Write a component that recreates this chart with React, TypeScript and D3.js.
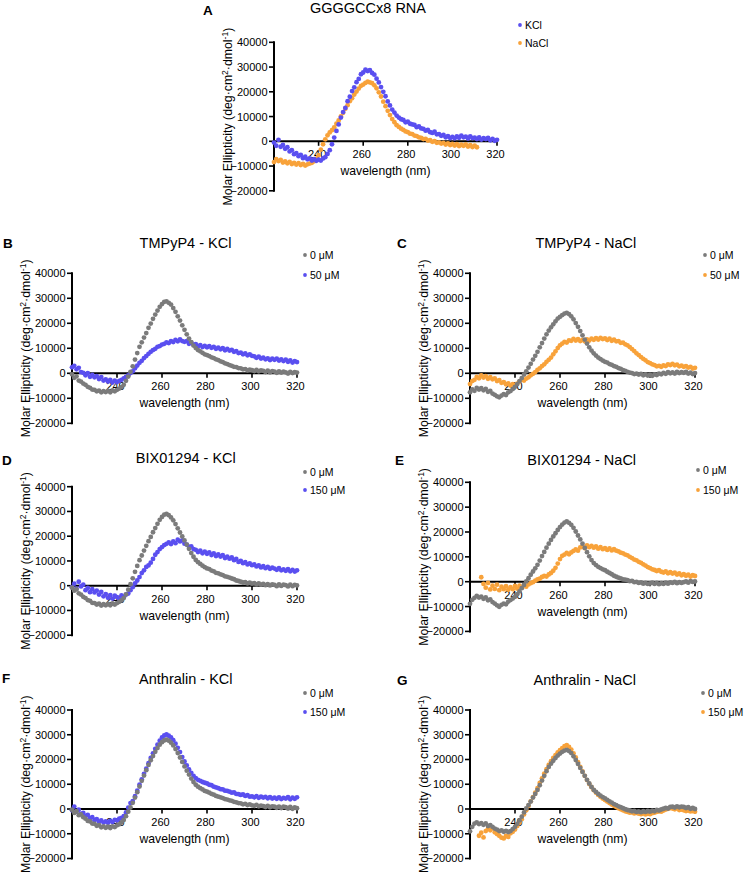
import React from 'react';
import * as d3 from 'd3';

const FONT = '"Liberation Sans", Arial, Helvetica, sans-serif';
const BLUE = '#5a4ff0';
const ORANGE = '#f8a23a';
const GRAY = '#7b7b7b';

const X_DOMAIN = [220, 320];
const Y_DOMAIN = [-20000, 40000];
const X_TICKS = [240, 260, 280, 300, 320];
const Y_TICKS = [-20000, -10000, 0, 10000, 20000, 30000, 40000];

// Molar ellipticity in thousands (deg·cm²·dmol⁻¹ / 1000), 1 nm steps from the given start wavelength
const A_KCL_START = 220;
const A_KCL = [
  -0.5, -1.8, 0.6, -2.2, -1.5, -3.0, -2.4, -4.1, -3.6, -5.2,
  -4.8, -6.0, -5.5, -6.8, -6.2, -7.3, -6.9, -7.8, -7.2, -7.9,
  -7.4, -7.8, -6.9, -6.4, -5.1, -3.6, -1.2, 1.5, 4.2, 6.8,
  9.6, 11.8, 13.5, 16.2, 18.0, 20.3, 21.8, 23.9, 25.2, 27.1,
  27.8, 28.9, 28.4, 28.7, 27.6, 26.9, 25.3, 23.8, 21.9, 20.0,
  18.2, 16.1, 14.5, 12.8, 11.6, 10.4, 9.6, 8.9, 8.6, 7.7,
  7.9, 7.1, 6.8, 6.6, 5.7, 6.0, 5.2, 5.0, 4.3, 4.6,
  3.7, 3.4, 3.9, 2.8, 2.9, 2.2, 2.6, 1.6, 2.1, 1.3,
  1.8, 1.2, 2.0, 1.4, 2.3, 1.6, 1.9, 1.1, 2.0, 1.3,
  1.5, 0.9, 1.6, 0.7, 1.3, 0.9, 1.4, 0.4, 1.0, 0.2,
  0.6,
];
const A_NACL_START = 220;
const A_NACL = [
  -8.4, -7.2, -8.0, -7.5, -8.6, -8.1, -8.9, -8.3, -9.2, -8.7,
  -9.4, -8.8, -9.6, -9.1, -9.8, -9.3, -9.0, -8.7, -8.1, -7.0,
  -5.6, -3.4, -1.2, 0.8, 2.4, 3.6, 4.5, 5.6, 7.1, 8.4,
  10.1, 11.5, 13.2, 14.6, 16.2, 17.4, 18.9, 20.1, 21.3, 22.4,
  22.9, 23.6, 24.1, 23.8, 23.5, 22.6, 21.4, 19.8, 18.1, 16.0,
  14.2, 12.3, 10.6, 9.0, 7.7, 6.5, 5.8, 5.1, 4.6, 4.0,
  3.7, 3.1, 2.9, 2.3, 2.1, 1.6, 1.4, 0.9, 1.0, 0.3,
  0.5, -0.2, 0.1, -0.6, -0.4, -0.9, -0.6, -1.3, -0.8, -1.5,
  -1.1, -1.7, -1.2, -1.9, -1.4, -1.8, -1.3, -2.1, -1.6, -2.3,
  -1.8, -2.4,
];

const B_GRAY_START = 220;
const B_GRAY = [
  -0.4, -1.8, -1.2, -2.9, -3.3, -4.1, -4.6, -5.4, -5.8, -6.5,
  -6.6, -7.2, -6.9, -7.6, -7.1, -7.5, -7.0, -7.6, -6.8, -7.2,
  -6.6, -6.1, -5.5, -4.6, -3.0, -1.3, 0.6, 2.8, 5.5, 8.1,
  10.6, 12.4, 14.3, 16.1, 18.2, 19.9, 21.8, 23.5, 25.1, 26.6,
  27.7, 28.6, 28.8, 28.2, 27.5, 26.1, 24.6, 22.8, 21.1, 19.2,
  17.4, 15.6, 13.9, 12.5, 11.1, 10.1, 9.3, 8.8, 8.2, 7.6,
  7.3, 6.9, 6.4, 6.1, 5.6, 5.3, 4.8, 4.5, 4.0, 3.7,
  3.3, 3.0, 2.6, 2.5, 2.1, 2.0, 1.6, 1.7, 1.2, 1.5,
  1.3, 0.9, 1.4, 0.8, 1.2, 1.0, 0.5, 1.1, 0.4, 0.9,
  0.7, 0.2, 0.8, 0.3, 0.7, 0.4, -0.1, 0.6, 0.1, 0.5,
  0.3,
];
const B_BLUE_START = 220;
const B_BLUE = [
  2.4, 3.0, 1.6, 2.2, 0.5, 0.2, -0.8, 0.1, -1.4, -0.6,
  -1.6, -1.1, -2.3, -1.5, -2.9, -2.4, -3.3, -2.6, -3.7, -2.9,
  -3.5, -3.0, -2.6, -2.0, -1.4, -0.8, 0.1, 0.8, 2.0, 3.1,
  4.2, 5.0, 6.1, 6.9, 7.8, 8.6, 9.3, 9.8, 10.6, 10.9,
  11.5, 11.8, 12.4, 12.1, 12.9, 12.5, 13.4, 12.8, 13.6, 12.9,
  12.6, 12.9, 11.8, 12.3, 11.4, 11.7, 10.8, 11.3, 10.5, 11.0,
  10.4, 10.9, 10.2, 10.6, 9.8, 10.3, 9.6, 10.1, 9.2, 9.8,
  9.1, 9.4, 8.6, 8.9, 8.1, 8.3, 7.6, 8.0, 7.2, 7.6,
  7.0, 6.8, 6.2, 6.7, 5.9, 6.3, 5.6, 6.0, 5.3, 5.9,
  5.4, 5.9, 5.1, 5.6, 4.9, 5.5, 4.6, 5.2, 4.3, 4.9,
  4.5,
];

const C_GRAY_START = 220;
const C_GRAY = [
  -7.6, -6.4, -7.0, -5.8, -6.5, -5.9, -6.8, -6.2, -7.4, -7.0,
  -8.1, -8.6, -9.2, -9.6, -8.9, -8.3, -8.7, -7.6, -7.1, -6.3,
  -5.4, -4.3, -3.1, -1.9, -0.5, 0.8, 2.3, 3.8, 5.5, 7.0,
  8.6, 10.4, 12.1, 13.9, 15.6, 17.1, 18.4, 19.6, 20.8, 21.9,
  22.6, 23.3, 23.9, 24.2, 23.7, 22.8, 21.6, 20.1, 18.6, 16.9,
  15.2, 13.5, 11.9, 10.4, 9.1, 8.0, 7.1, 6.3, 5.7, 5.1,
  4.6, 4.3, 3.7, 3.4, 2.9, 2.6, 2.1, 1.8, 1.3, 1.0,
  0.6, 0.3, 0.1, -0.3, -0.1, -0.5, -0.2, -0.8, -0.4, -0.9,
  -0.6, -1.0, -0.4, -0.7, -0.1, -0.4, 0.2, -0.2, 0.5, 0.0,
  0.4, -0.1, 0.6, 0.1, 0.5, 0.2, 0.6, -0.1, 0.3, -0.3,
  0.1,
];
const C_ORANGE_START = 220;
const C_ORANGE = [
  -4.3, -3.1, -2.6, -1.4, -2.0, -0.8, -1.7, -1.1, -2.2, -1.5,
  -2.4, -2.0, -3.1, -2.7, -3.8, -3.5, -4.4, -4.0, -4.9, -4.3,
  -4.8, -4.1, -3.3, -2.6, -2.9, -2.1, -1.6, -0.8, -0.2, 0.5,
  1.4, 2.0, 2.9, 3.6, 4.6, 5.4, 6.3, 7.6, 8.8, 10.1,
  11.2, 11.9, 12.6, 12.3, 13.2, 13.0, 13.8, 13.1, 13.7, 12.9,
  13.4, 12.8, 13.6, 13.1, 13.9, 13.4, 14.1, 13.5, 14.2, 13.7,
  14.0, 13.3, 13.9, 13.0, 13.5, 12.8, 12.9, 12.2, 12.3, 11.6,
  11.2, 10.5, 9.7, 8.9, 8.0, 7.3, 6.5, 5.8, 5.2, 4.5,
  4.1, 3.6, 3.3, 2.8, 3.0, 2.6, 3.2, 2.9, 3.6, 3.3,
  3.8, 3.2, 3.5, 2.8, 3.1, 2.6, 2.9, 2.3, 2.6, 1.9,
  2.2,
];

const D_GRAY_START = 220;
const D_GRAY = [
  -0.8, -2.0, -1.5, -3.1, -3.6, -4.5, -5.0, -5.8, -6.1, -6.9,
  -7.0, -7.6, -7.3, -8.0, -7.5, -7.9, -7.4, -7.9, -7.2, -7.6,
  -7.0, -6.5, -5.9, -5.0, -3.5, -1.6, 0.6, 3.0, 5.6, 8.0,
  10.3, 12.2, 14.2, 16.1, 18.0, 19.7, 21.6, 23.3, 25.0, 26.6,
  27.8, 28.7, 29.0, 28.5, 27.6, 26.4, 24.9, 23.2, 21.5, 19.9,
  18.3, 16.6, 14.9, 13.2, 11.7, 10.4, 9.5, 8.8, 8.1, 7.5,
  7.0, 6.7, 6.1, 5.8, 5.2, 5.0, 4.6, 4.3, 3.8, 3.6,
  3.3, 2.9, 2.6, 2.1, 1.9, 1.6, 1.3, 1.4, 0.9, 1.2,
  0.8, 1.0, 0.5, 0.9, 0.4, 0.7, 0.2, 0.6, 0.1, 0.5,
  0.3, -0.2, 0.5, -0.1, 0.4, 0.2, -0.3, 0.4, -0.2, 0.3,
  0.1,
];
const D_BLUE_START = 220;
const D_BLUE = [
  -0.6, 0.8, -1.2, 1.6, -0.3, 0.4, -1.8, -0.9, -2.6, -1.4,
  -2.7, -2.0, -3.6, -2.5, -4.3, -3.4, -4.9, -3.8, -5.2, -4.0,
  -4.6, -5.4, -3.9, -4.7, -3.6, -3.2, -1.8, -0.6, 0.9, 2.1,
  3.5, 5.1, 6.2, 7.6, 8.2, 9.3, 10.8, 12.5, 13.6, 14.8,
  15.6, 16.4, 16.9, 17.5, 16.8, 17.9, 17.2, 18.6, 17.9, 18.3,
  17.0, 16.6, 15.7, 15.9, 14.8, 14.5, 13.6, 14.2, 13.1, 13.8,
  12.9, 13.5, 12.4, 13.1, 12.0, 12.6, 11.8, 12.3, 11.2, 11.7,
  10.9, 11.4, 10.3, 10.8, 9.6, 10.0, 9.1, 9.5, 8.6, 9.0,
  8.3, 8.6, 7.8, 8.2, 7.4, 7.9, 7.1, 7.6, 6.8, 7.3,
  6.9, 6.4, 7.1, 6.2, 6.6, 6.0, 6.7, 5.8, 6.4, 5.7,
  6.2,
];

const E_GRAY_START = 220;
const E_GRAY = [
  -8.9, -7.3, -6.5, -5.7, -6.4, -6.0, -6.9, -6.3, -7.5, -7.1,
  -8.2, -8.8, -9.5, -10.1, -9.3, -8.8, -9.1, -8.0, -7.4, -6.8,
  -6.1, -5.0, -3.9, -2.6, -1.3, 0.1, 1.4, 2.8, 4.1, 5.4,
  6.8, 8.5, 10.3, 12.0, 13.7, 15.3, 16.8, 18.2, 19.5, 20.8,
  22.0, 23.0, 23.8, 24.3, 23.7, 22.9, 21.7, 20.2, 18.6, 17.0,
  15.3, 13.6, 11.9, 10.2, 8.7, 7.5, 6.7, 6.0, 5.5, 5.0,
  4.6, 4.0, 3.5, 3.0, 2.4, 2.0, 1.6, 1.3, 0.9, 0.8,
  0.6, 0.2, 0.3, -0.2, -0.1, -0.5, -0.3, -0.8, -0.5, -0.9,
  -0.7, -0.4, -0.9, -0.5, -1.0, -0.6, -0.9, -0.4, -0.8, -0.3,
  -0.5, -0.1, -0.6, -0.2, -0.5, -0.2, 0.1, -0.4, 0.2, -0.1,
  0.1,
];
const E_ORANGE_START = 225;
const E_ORANGE = [
  1.8, -0.9, -2.4, -0.5, -3.1,
  -1.6, -2.9, -1.2, -3.4, -2.0, -3.0, -1.8, -3.2, -2.2, -3.0,
  -1.7, -2.8, -1.6, -2.4, -1.4, -2.0, -1.1, -0.6, -0.2, 0.4,
  0.9, 1.2, 1.9, 2.3, 2.1, 2.9, 3.5, 4.4, 5.6, 7.3,
  9.1, 10.4, 10.9, 11.6, 11.0, 11.8, 12.4, 13.0, 12.5, 13.8,
  14.2, 13.5, 14.6, 13.9, 14.4, 13.7, 14.2, 13.3, 13.9, 13.1,
  13.5, 12.8, 13.4, 12.6, 13.1, 12.5, 12.2, 11.7, 11.4, 10.9,
  10.6, 10.0, 9.5, 8.9, 8.6, 8.0, 7.6, 7.0, 6.5, 5.9,
  5.5, 5.0, 4.7, 4.3, 4.6, 4.0, 3.7, 4.1, 3.4, 3.8,
  3.3, 3.6, 2.9, 3.3, 2.6, 3.0, 2.4, 2.8, 2.1, 2.6,
  2.3,
];

const F_GRAY_START = 220;
const F_GRAY = [
  -0.3, -1.6, -0.9, -2.5, -2.2, -3.3, -3.9, -4.8, -5.0, -5.9,
  -6.0, -6.8, -6.5, -7.4, -7.0, -7.6, -7.1, -7.7, -7.0, -7.3,
  -6.6, -6.2, -5.4, -4.4, -2.9, -1.1, 0.6, 2.5, 4.6, 6.8,
  9.1, 11.4, 13.5, 15.7, 17.8, 19.7, 21.4, 23.1, 24.6, 26.0,
  27.0, 27.7, 28.0, 27.6, 26.8, 25.7, 24.2, 22.6, 20.8, 19.0,
  17.2, 15.5, 13.9, 12.3, 10.9, 9.8, 9.0, 8.4, 7.9, 7.3,
  7.0, 6.6, 6.1, 5.8, 5.3, 5.0, 4.7, 4.4, 4.0, 3.8,
  3.5, 3.3, 2.9, 2.7, 2.4, 2.3, 1.9, 2.1, 1.6, 1.9,
  1.5, 1.3, 1.7, 1.1, 1.4, 1.2, 0.8, 1.3, 0.7, 1.1,
  0.9, 0.5, 1.0, 0.4, 0.9, 0.7, 0.2, 0.8, 0.1, 0.6,
  0.3,
];
const F_BLUE_START = 220;
const F_BLUE = [
  -0.5, 1.0, -1.1, -0.3, -2.0, -1.6, -2.8, -2.4, -3.7, -3.3,
  -4.5, -4.1, -5.2, -4.6, -5.5, -5.0, -5.6, -4.8, -5.3, -4.4,
  -4.6, -3.9, -3.6, -2.9, -1.4, 0.5, 2.4, 3.2, 5.2, 7.4,
  9.8, 12.0, 14.2, 16.3, 18.5, 20.6, 22.5, 24.3, 26.0, 27.6,
  28.9, 29.7, 30.1, 29.6, 28.9, 27.8, 26.4, 24.7, 23.0, 21.0,
  19.2, 17.6, 16.0, 14.6, 13.4, 12.5, 11.8, 11.4, 10.9, 10.6,
  10.3, 9.8, 9.6, 9.0, 8.7, 8.4, 8.0, 7.9, 7.4, 7.3,
  7.0, 6.6, 6.7, 6.1, 6.0, 5.7, 5.9, 5.3, 5.6, 5.0,
  5.1, 4.7, 5.2, 4.5, 5.0, 4.6, 4.9, 4.3, 4.8, 4.2,
  4.6, 4.1, 4.7, 4.0, 4.5, 4.2, 4.8, 3.9, 4.6, 4.1,
  4.7,
];

const G_GRAY_START = 220;
const G_GRAY = [
  -9.0, -7.2, -5.9, -5.4, -6.1, -5.7, -6.4, -5.8, -6.9, -6.5,
  -7.2, -7.9, -8.3, -8.9, -8.6, -9.2, -8.8, -9.3, -8.9, -8.1,
  -7.2, -6.0, -4.6, -3.1, -1.4, 0.2, 1.6, 3.0, 4.6, 6.1,
  7.7, 9.6, 11.5, 13.4, 15.3, 17.0, 18.3, 19.5, 20.6, 21.6,
  22.4, 23.1, 23.6, 23.9, 23.4, 22.6, 21.3, 19.8, 18.2, 16.6,
  15.0, 13.4, 11.8, 10.3, 8.9, 7.7, 6.9, 6.1, 5.4, 4.8,
  4.3, 3.7, 3.1, 2.6, 2.0, 1.6, 1.1, 0.7, 0.3, -0.1,
  -0.4, -0.6, -0.9, -0.8, -1.2, -1.0, -1.3, -0.9, -1.2, -0.8,
  -1.1, -0.7, -0.9, -0.4, -0.6, -0.2, 0.1, 0.4, 0.2, 0.8,
  0.9, 0.6, 1.1, 0.7, 1.0, 0.8, 0.4, 0.7, 0.1, 0.4,
  0.0,
];
const G_ORANGE_START = 224;
const G_ORANGE = [
  -10.8, -9.6, -11.5, -8.9, -8.0, -8.6,
  -7.7, -9.4, -10.1, -10.8, -11.6, -11.9, -10.9, -11.3, -9.8, -9.2,
  -8.3, -6.9, -5.6, -4.1, -2.2, -0.5, 1.2, 3.1, 4.8, 6.6,
  8.4, 10.5, 12.4, 14.3, 16.1, 17.8, 19.3, 20.6, 21.8, 22.9,
  23.8, 24.6, 25.4, 25.8, 25.1, 24.0, 22.5, 20.8, 18.9, 17.0,
  15.2, 13.4, 11.7, 10.1, 8.8, 7.6, 6.6, 5.7, 4.9, 4.2,
  3.6, 3.0, 2.4, 1.8, 1.3, 0.8, 0.3, -0.1, -0.5, -0.9,
  -1.2, -1.5, -1.4, -1.8, -1.6, -1.9, -2.1, -1.8, -2.2, -1.9,
  -2.1, -1.7, -1.5, -1.2, -0.9, -1.1, -0.6, -0.2, 0.1, 0.4,
  0.2, -0.1, 0.3, -0.4, -0.2, -0.5, -0.8, -0.6, -1.0, -0.8,
  -1.1,
];

const TITLES = ['GGGGCCx8 RNA', 'TMPyP4 - KCl', 'TMPyP4 - NaCl', 'BIX01294 - KCl', 'BIX01294 - NaCl', 'Anthralin - KCl', 'Anthralin - NaCl'];
const LETTERS = ['A', 'B', 'C', 'D', 'E', 'F', 'G'];

type Series = { label: string; color: string; start: number; values: number[] };

const SERIES: Series[][] = [
  [
    { label: 'KCl', color: BLUE, start: A_KCL_START, values: A_KCL },
    { label: 'NaCl', color: ORANGE, start: A_NACL_START, values: A_NACL },
  ],
  [
    { label: '0 μM', color: GRAY, start: B_GRAY_START, values: B_GRAY },
    { label: '50 μM', color: BLUE, start: B_BLUE_START, values: B_BLUE },
  ],
  [
    { label: '0 μM', color: GRAY, start: C_GRAY_START, values: C_GRAY },
    { label: '50 μM', color: ORANGE, start: C_ORANGE_START, values: C_ORANGE },
  ],
  [
    { label: '0 μM', color: GRAY, start: D_GRAY_START, values: D_GRAY },
    { label: '150 μM', color: BLUE, start: D_BLUE_START, values: D_BLUE },
  ],
  [
    { label: '0 μM', color: GRAY, start: E_GRAY_START, values: E_GRAY },
    { label: '150 μM', color: ORANGE, start: E_ORANGE_START, values: E_ORANGE },
  ],
  [
    { label: '0 μM', color: GRAY, start: F_GRAY_START, values: F_GRAY },
    { label: '150 μM', color: BLUE, start: F_BLUE_START, values: F_BLUE },
  ],
  [
    { label: '0 μM', color: GRAY, start: G_GRAY_START, values: G_GRAY },
    { label: '150 μM', color: ORANGE, start: G_ORANGE_START, values: G_ORANGE },
  ],
];

// layout (pixel positions) per panel
type Layout = {
  x0: number; x1: number; yt: number; yb: number;
  tx: number; ty: number; lx: number; ly: number;
  legX: number; legY: number[];
};
const LAYOUTS: Layout[] = [
  { x0: 274, x1: 497, yt: 42.3, yb: 190.8, tx: 368, ty: 13, lx: 203, ly: 15, legX: 520, legY: [25, 43] },
  { x0: 72, x1: 297, yt: 273.3, yb: 423.3, tx: 185.5, ty: 248, lx: 3, ly: 248, legX: 305, legY: [255, 275] },
  { x0: 470, x1: 695, yt: 273.3, yb: 423.3, tx: 585.8, ty: 248, lx: 397, ly: 248, legX: 705, legY: [255, 275] },
  { x0: 72, x1: 297, yt: 486.7, yb: 635.2, tx: 185.8, ty: 463, lx: 2, ly: 465, legX: 305, legY: [472, 490] },
  { x0: 470, x1: 695, yt: 482.3, yb: 631.4, tx: 581.7, ty: 465, lx: 395, ly: 465, legX: 698, legY: [470, 490] },
  { x0: 72, x1: 297, yt: 710, yb: 858.5, tx: 185.8, ty: 684, lx: 2, ly: 683, legX: 305, legY: [693, 712] },
  { x0: 470, x1: 695, yt: 710, yb: 858.5, tx: 584.7, ty: 685, lx: 397, ly: 685, legX: 703, legY: [693, 712] },
];

function Panel({ idx }: { idx: number }) {
  const L = LAYOUTS[idx];
  const series = SERIES[idx];
  const x = d3.scaleLinear().domain(X_DOMAIN).range([L.x0, L.x1]);
  const y = d3.scaleLinear().domain(Y_DOMAIN).range([L.yb, L.yt]);
  const y0 = y(0);
  const yMid = (L.yt + L.yb) / 2;
  const labX = L.x0 - 42;
  const fmt = d3.format('d');
  const drawOrder = [...series].reverse();
  return (
    <g>
      {/* panel letter and title */}
      <text x={L.lx} y={L.ly} fontSize={13.5} fontWeight="bold" fontFamily={FONT}>{LETTERS[idx]}</text>
      <text x={L.tx} y={L.ty} fontSize={14.5} textAnchor="middle" fontFamily={FONT}>{TITLES[idx]}</text>

      {/* y axis */}
      <line x1={L.x0} x2={L.x0} y1={y(Y_DOMAIN[0]) + 1} y2={y(Y_DOMAIN[1]) - 1} stroke="#000" strokeWidth={2} />
      {Y_TICKS.map((t) => (
        <g key={t}>
          <line x1={L.x0 - 5} x2={L.x0} y1={y(t)} y2={y(t)} stroke="#000" strokeWidth={1.6} />
          <text x={L.x0 - 6.5} y={y(t)} dy="0.36em" fontSize={11} textAnchor="end" fontFamily={FONT}>{fmt(t)}</text>
        </g>
      ))}
      <text transform={`translate(${labX},${yMid}) rotate(-90)`} fontSize={12.3} textAnchor="middle" fontFamily={FONT}>
        Molar Ellipticity (deg·cm<tspan dy={-4.5} fontSize={8.5}>2</tspan><tspan dy={4.5}>·dmol</tspan><tspan dy={-4.5} fontSize={8.5}>-1</tspan><tspan dy={4.5}>)</tspan>
      </text>

      {/* x axis at y = 0 */}
      {X_TICKS.map((t) => (
        <g key={t}>
          <text x={x(t) - 1.5} y={y0 + 17} fontSize={11} textAnchor="middle" fontFamily={FONT}>{t}</text>
        </g>
      ))}
      <line x1={L.x0} x2={L.x1} y1={y0} y2={y0} stroke="#000" strokeWidth={2} />
      {X_TICKS.map((t) => (
        <line key={t} x1={x(t)} x2={x(t)} y1={y0} y2={y0 + 4.5} stroke="#000" strokeWidth={1.6} />
      ))}
      <text x={(L.x0 + L.x1) / 2} y={y0 + 34} fontSize={12.2} textAnchor="middle" fontFamily={FONT}>wavelength (nm)</text>

      {/* data points */}
      {drawOrder.map((s, si) => (
        <g key={si} fill={s.color}>
          {s.values.map((v, i) => (
            <circle key={i} cx={x(s.start + i)} cy={y(v * 1000)} r={2.4} />
          ))}
        </g>
      ))}

      {/* legend */}
      {series.map((s, i) => (
        <g key={s.label}>
          <circle cx={L.legX} cy={L.legY[i]} r={1.9} fill={s.color} />
          <text x={L.legX + 5} y={L.legY[i]} dy="0.36em" fontSize={10.5} fontFamily={FONT}>{s.label}</text>
        </g>
      ))}
    </g>
  );
}

export default function App() {
  return (
    <svg
      width={745}
      height={874}
      viewBox="0 0 745 874"
      style={{ position: 'absolute', left: 0, top: 0, background: '#fff' }}
    >
      <rect x={0} y={0} width={745} height={874} fill="#fff" />
      {LAYOUTS.map((_, i) => (
        <Panel key={i} idx={i} />
      ))}
    </svg>
  );
}
